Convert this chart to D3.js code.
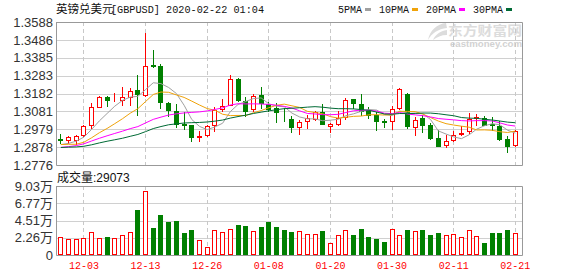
<!DOCTYPE html>
<html><head><meta charset="utf-8">
<script src="https://cdn.jsdelivr.net/npm/d3@7/dist/d3.min.js"></script>
<style>body{margin:0;background:#fff}svg{display:block}</style>
</head><body><div id="c"></div>
<script>
const dates = ["11-28","11-29","12-02","12-03","12-04","12-05","12-06","12-09","12-10","12-11","12-12","12-13","12-16","12-17","12-18","12-19","12-20","12-23","12-24","12-26","12-27","12-30","12-31","01-02","01-03","01-06","01-07","01-08","01-09","01-10","01-13","01-14","01-15","01-16","01-17","01-20","01-21","01-22","01-23","01-24","01-27","01-28","01-29","01-30","01-31","02-03","02-04","02-05","02-06","02-07","02-10","02-11","02-12","02-13","02-14","02-17","02-18","02-19","02-20","02-21"];
const open = [1.2925,1.2918,1.2916,1.2944,1.3001,1.3107,1.3162,1.3143,1.3147,1.3160,
1.3203,1.3175,1.3346,1.3340,1.3130,1.3081,1.3009,1.3001,1.2937,1.2944,
1.3001,1.3096,1.3118,1.3264,1.3138,1.3096,1.3172,1.3122,1.3100,1.3068,
1.3039,1.2993,1.3024,1.3039,1.3075,1.2996,1.3010,1.3047,1.3151,1.3121,
1.3090,1.3058,1.3026,1.3024,1.3100,1.3181,1.2992,1.3041,1.3005,1.2929,
1.2891,1.2916,1.2952,1.2967,1.3043,1.3043,1.3009,1.2996,1.2923,1.2891];
const high = [1.2952,1.2940,1.2944,1.3005,1.3128,1.3166,1.3169,1.3185,1.3217,1.3213,
1.3289,1.3526,1.3431,1.3350,1.3135,1.3122,1.3077,1.3003,1.2967,1.3005,
1.3105,1.3152,1.3289,1.3270,1.3160,1.3179,1.3217,1.3134,1.3128,1.3100,
1.3052,1.3033,1.3061,1.3081,1.3122,1.3014,1.3081,1.3156,1.3153,1.3179,
1.3105,1.3075,1.3035,1.3109,1.3213,1.3185,1.3048,1.3061,1.3014,1.2976,
1.2948,1.2967,1.2996,1.3071,1.3065,1.3052,1.3047,1.3024,1.2939,1.2976];
const low = [1.2902,1.2901,1.2897,1.2939,1.2986,1.3105,1.3109,1.3138,1.3115,1.3114,
1.3058,1.3168,1.3331,1.3102,1.3054,1.2992,1.2980,1.2910,1.2910,1.2940,
1.2971,1.3081,1.3115,1.3138,1.3052,1.3081,1.3100,1.3081,1.3020,1.3024,
1.2966,1.2952,1.2986,1.3033,1.3008,1.2963,1.3001,1.3039,1.3100,1.3058,
1.3043,1.2976,1.2990,1.2980,1.3096,1.2986,1.2944,1.2963,1.2925,1.2882,
1.2876,1.2910,1.2948,1.2958,1.3005,1.3001,1.2976,1.2920,1.2850,1.2882];
const close = [1.2920,1.2933,1.2939,1.2996,1.3104,1.3160,1.3143,1.3147,1.3160,1.3198,
1.3181,1.3336,1.3340,1.3135,1.3088,1.3010,1.3003,1.2935,1.2940,1.2996,
1.3086,1.3109,1.3264,1.3143,1.3081,1.3169,1.3128,1.3096,1.3077,1.3063,
1.2990,1.3018,1.3043,1.3075,1.3010,1.3007,1.3043,1.3145,1.3128,1.3081,
1.3058,1.3027,1.3022,1.3094,1.3207,1.2999,1.3030,1.3005,1.2929,1.2885,
1.2910,1.2948,1.2956,1.3039,1.3047,1.3005,1.3005,1.2925,1.2885,1.2967];
// closes before the first visible day (needed for the moving averages)
const priorCloses = [1.2870,1.2905,1.2880,1.2855,1.2840,1.2860,1.2895,1.2900,1.2870,1.2865,
1.2850,1.2820,1.2790,1.2785,1.2855,1.2860,1.2880,1.2900,1.2915,1.2945,
1.2920,1.2935,1.2880,1.2850,1.2876,1.2900,1.2875,1.2880,1.2885];
const volume = [23100,20500,20500,21800,30100,21800,23600,21800,25700,30100,
58900,83800,35300,52300,43200,44500,29200,32700,19600,10000,
32300,30100,33600,39300,38000,31400,36600,43200,36600,32700,
30100,31000,27100,27100,31400,15300,25700,32300,26200,34000,
23600,20900,17000,33600,25700,32700,31000,32700,26200,28800,
25700,27100,23100,32300,24400,15700,28800,28800,32700,29073];
const volDir = "rrrrrrgrrrgrggggggrrrrrggrgggggrrrgrrrgggggrrgrgggrrrrrggggr".split("");
const priceTicks = ["1.3588","1.3486","1.3385","1.3283","1.3182","1.3081","1.2979","1.2878","1.2776"];
const volTickLabels = ["0","2.26万","4.51万","6.77万","9.03万"];
const volMax = 90300;
const xTickLabels = ["12-03","12-13","12-26","01-08","01-20","01-30","02-11","02-21"];
const maPeriods = [5,10,20,30];
const maNames = ["5PMA","10PMA","20PMA","30PMA"];
const maColors = ["#a0a0a0","#f0a30a","#ff00ff","#006a35"];
const titleCN = "英镑兑美元";
const titleEN = "[GBPUSD] 2020-02-22 01:04";
const volTitle = "成交量";

const RED = "#ff0000", GREEN = "#008000";
const W = 578, H = 276;
const L = 56, R = 522, mainTop = 22, mainBot = 165, volTop = 186, volBot = 255;
const svg = d3.select("#c").append("svg").attr("width", W).attr("height", H);
svg.append("rect").attr("width", W).attr("height", H).attr("fill", "#fff");

const x = d3.scaleBand().domain(d3.range(dates.length)).range([56.5, 518.7]);
const bw = x.bandwidth();
const cx = i => Math.round(x(i) + bw / 2);
const y = d3.scaleLinear().domain([+priceTicks[priceTicks.length - 1], +priceTicks[0]]).range([mainBot, mainTop]);
const yv = d3.scaleLinear().domain([0, volMax]).range([volBot, volTop]);
const hp = v => Math.round(v) + 0.5;
const MONO = "'Liberation Mono','DejaVu Sans Mono',monospace";
const SANS = "'Liberation Sans',Arial,sans-serif";
const CJK = "'Noto Sans CJK SC','Noto Sans',sans-serif";

// watermark
const wm = svg.append("g").attr("fill", "#dcdcdc");
wm.append("path").attr("d", "M446,23 C437,24 430,30 428,40 C432,33 438,29 447,28 Z");
wm.append("path").attr("d", "M447,30 C440,31 435,35 433,40 C437,37 441,35 447,35 Z");
wm.append("text").attr("x", 448).attr("y", 35).attr("font-family", CJK).attr("font-weight", "bold")
  .attr("font-size", 13).attr("textLength", 74).attr("lengthAdjust", "spacingAndGlyphs").text("东方财富网");
wm.append("text").attr("x", 450).attr("y", 46.5).attr("font-family", SANS).attr("font-weight", "bold")
  .attr("font-size", 8.5).attr("textLength", 72).attr("lengthAdjust", "spacingAndGlyphs").attr("fill", "#d2d2d2").text("eastmoney.com");

// horizontal gridlines
const grid = svg.append("g");
priceTicks.slice(1, -1).forEach(t => {
  grid.append("line").attr("x1", L).attr("x2", R).attr("y1", hp(y(+t))).attr("y2", hp(y(+t)))
    .attr("stroke", "#d0d0d0");
});
const volTickVals = volTickLabels.map((d, k) => volMax * k / (volTickLabels.length - 1));
volTickVals.slice(1, -1).forEach(v => {
  grid.append("line").attr("x1", L).attr("x2", R).attr("y1", hp(yv(v))).attr("y2", hp(yv(v)))
    .attr("stroke", "#d0d0d0");
});
// vertical dashed lines
const xTickIdx = xTickLabels.map(d => dates.indexOf(d));
xTickIdx.forEach(i => {
  [[mainTop, mainBot], [volTop, volBot]].forEach(([a, b]) => {
    grid.append("line").attr("x1", cx(i) + 0.5).attr("x2", cx(i) + 0.5).attr("y1", a).attr("y2", b)
      .attr("stroke", "#c8c8c8").attr("stroke-dasharray", "4,3");
  });
});

// frames
const fr = svg.append("g").attr("stroke", "#999").attr("fill", "none");
fr.append("path").attr("d", `M${hp(L)},${hp(mainTop)}H${hp(R)}V${hp(mainBot)}H${hp(L)}`);
fr.append("path").attr("d", `M${hp(L)},${hp(volTop)}H${hp(R)}V${hp(volBot)}H${hp(L)}`);

// axes
const yAxis = d3.axisLeft(y).tickValues(priceTicks.map(Number)).tickFormat((d, i) => priceTicks[i])
  .tickSizeInner(0).tickSizeOuter(0).tickPadding(3);
const ga = svg.append("g").attr("transform", `translate(${hp(L) - 0.5},0)`).call(yAxis);
ga.select(".domain").attr("stroke", "#999").attr("d", `M0.5,${mainTop}V${hp(mainBot)}`);
ga.selectAll("text").attr("font-family", SANS).attr("font-size", 13).attr("fill", "#333");

const vAxis = d3.axisLeft(yv).tickValues(volTickVals).tickFormat((d, i) => volTickLabels[i])
  .tickSizeInner(0).tickSizeOuter(0).tickPadding(3);
const gv = svg.append("g").attr("transform", `translate(${hp(L) - 0.5},0)`).call(vAxis);
gv.select(".domain").attr("stroke", "#999").attr("d", `M0.5,${volTop}V${hp(volBot)}`);
gv.selectAll("text").attr("font-family", `${SANS},${CJK}`).attr("font-size", 13).attr("fill", "#333");

const xAxis = d3.axisBottom(x).tickValues(xTickIdx).tickFormat(i => dates[i]).tickSize(0).tickPadding(6);
const gx = svg.append("g").attr("transform", `translate(0.5,${volBot})`).call(xAxis);
gx.select(".domain").remove();
gx.selectAll("text").attr("font-family", MONO).attr("font-size", 11).attr("fill", RED)
  .attr("textLength", 30).attr("lengthAdjust", "spacingAndGlyphs");

// candles
const cg = svg.append("g");
dates.forEach((d, i) => {
  const up = close[i] >= open[i];
  const col = up ? RED : GREEN;
  const c = cx(i);
  cg.append("line").attr("x1", c + 0.5).attr("x2", c + 0.5).attr("y1", Math.round(y(high[i]))).attr("y2", Math.round(y(low[i])) + 1)
    .attr("stroke", col);
  const top = Math.round(y(Math.max(open[i], close[i])));
  const bot = Math.round(y(Math.min(open[i], close[i])));
  cg.append("rect").attr("x", c - 1.5).attr("y", top + 0.5).attr("width", 4).attr("height", Math.max(0, bot - top))
    .attr("fill", up ? "#fff" : GREEN).attr("stroke", col);
});

// moving averages
const allClose = priorCloses.concat(close);
const off = priorCloses.length;
const line = d3.line().x((v, i) => x(i) + bw / 2 + 0.5).y(v => y(v));
maPeriods.forEach((n, k) => {
  const ma = close.map((c, i) => d3.mean(allClose.slice(off + i - n + 1, off + i + 1)));
  svg.append("path").attr("d", line(ma)).attr("fill", "none").attr("stroke", maColors[k]).attr("stroke-width", 1);
});

// volume bars
const vg = svg.append("g");
volume.forEach((v, i) => {
  const c = cx(i);
  const up = volDir[i] === "r";
  const top = Math.round(yv(v));
  vg.append("rect").attr("x", c - 1.5).attr("y", top + 0.5).attr("width", 4).attr("height", volBot - top - 1)
    .attr("fill", up ? "#fff" : GREEN).attr("stroke", up ? RED : GREEN);
});

// title
svg.append("text").attr("x", 56).attr("y", 13).attr("font-family", CJK).attr("font-size", 11.5).attr("fill", "#111").text(titleCN);
svg.append("text").attr("x", 111).attr("y", 12.5).attr("font-family", MONO).attr("font-size", 11).attr("fill", "#111")
  .attr("textLength", 153).attr("lengthAdjust", "spacingAndGlyphs").text(titleEN);

// legend
let pos = 338;
maNames.forEach((nm, k) => {
  const tl = nm.length * 6;
  svg.append("text").attr("x", pos).attr("y", 12.5).attr("font-family", MONO).attr("font-size", 11).attr("fill", "#111")
    .attr("textLength", tl).attr("lengthAdjust", "spacingAndGlyphs").text(nm);
  const sx = pos + tl + 3;
  svg.append("rect").attr("x", sx).attr("y", 8).attr("width", 6).attr("height", 3).attr("fill", maColors[k]);
  pos = sx + 6 + 8;
});

// volume title
svg.append("text").attr("x", 57).attr("y", 182).attr("font-family", CJK).attr("font-size", 12).attr("fill", "#111").text(volTitle);
svg.append("text").attr("x", 93).attr("y", 182).attr("font-family", SANS).attr("font-size", 12).attr("fill", "#111")
  .text(":" + volume[volume.length - 1]);
</script></body></html>
